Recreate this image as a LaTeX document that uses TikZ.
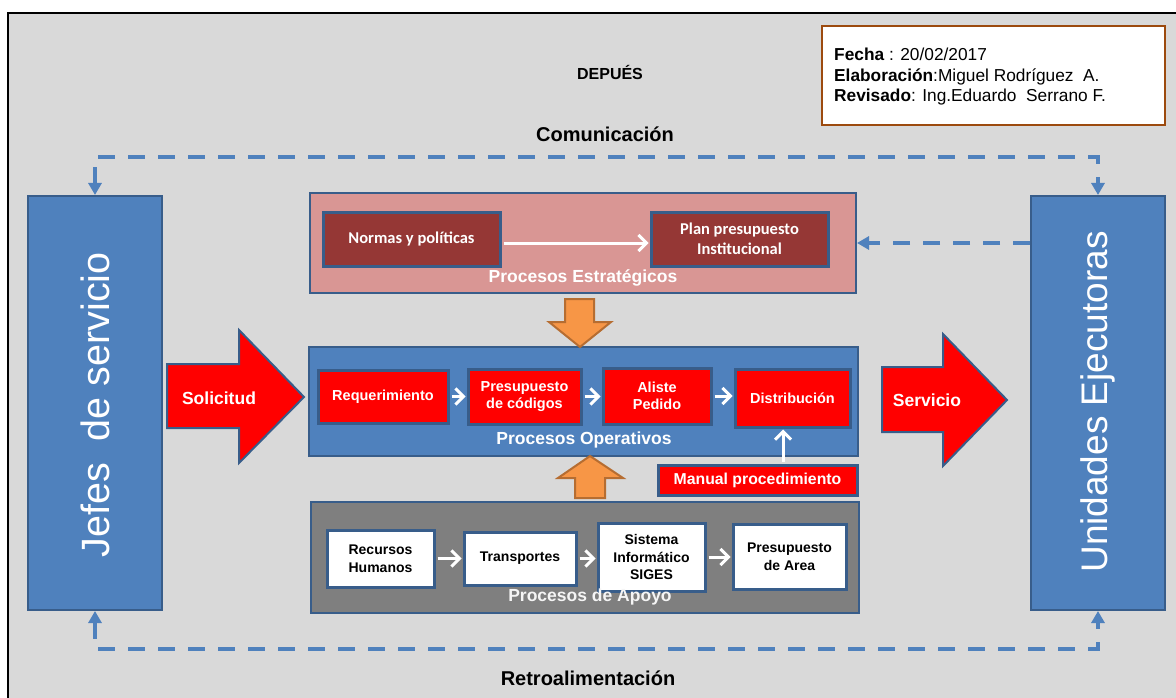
\documentclass[tikz,border=0pt]{standalone}
\usepackage{fontspec}
\setmainfont{Liberation Sans}
\newfontfamily\calibri{Carlito}
\usetikzlibrary{arrows.meta}

\definecolor{bggray}{HTML}{D9D9D9}
\definecolor{boxblue}{HTML}{4F81BD}
\definecolor{edgeblue}{HTML}{385D8A}
\definecolor{rosepink}{HTML}{D99694}
\definecolor{darkred}{HTML}{953735}
\definecolor{orangefill}{HTML}{F79646}
\definecolor{orangeedge}{HTML}{B66D31}
\definecolor{brownedge}{HTML}{9C4A0E}
\definecolor{midgray}{HTML}{7F7F7F}

\tikzset{
  panel/.style={draw=edgeblue, line width=2pt, inner sep=0pt},
  stepbox/.style={draw=edgeblue, line width=3pt, inner sep=0pt, align=center},
  redbox/.style={stepbox, fill=red, text=white, font=\fontsize{14.5}{16.5}\selectfont\bfseries},
  whitebox/.style={stepbox, fill=white, text=black, font=\fontsize{14}{17.5}\selectfont\bfseries},
  wine/.style={stepbox, fill=darkred, text=white, font=\calibri\fontsize{16.5}{20}\selectfont\bfseries},
  sidebox/.style={draw=edgeblue, line width=2pt, fill=boxblue, inner sep=0pt,
    minimum width=134pt, minimum height=414pt},
  sidetext/.style={rotate=90, text=white, font=\fontsize{#1}{40}\selectfont},
  panellabel/.style={text=white, font=\fontsize{17.5}{19}\selectfont\bfseries},
  warrow/.style={draw=white, line width=3pt, -{Straight Barb[length=8pt,width=16pt]},
    shorten <=2pt, shorten >=1pt},
  bluedash/.style={draw=boxblue, line width=4pt, dash pattern=on 17pt off 13pt,
    -{Triangle[length=12pt,width=13pt]}},
  bigarrow/.style={fill=red, draw=edgeblue, line width=2pt, line join=miter},
  fatarrow/.style={fill=orangefill, draw=orangeedge, line width=2pt},
  arrowtext/.style={text=white, font=\fontsize{17.5}{19}\selectfont\bfseries},
  heading/.style={font=\fontsize{20}{22}\selectfont\bfseries},
}

\begin{document}
\begin{tikzpicture}[x=1pt, y=-1pt]
\useasboundingbox (0,0) rectangle (1176,698);
\fill[white] (0,0) rectangle (1176,698);
% page frame
\draw[black, line width=2.5pt, fill=bggray] (8,13) rectangle (1200,720);

% document info
\node[draw=brownedge, line width=2.5pt, fill=white, minimum width=343pt, minimum height=99pt, inner sep=0pt]
  (info) at (993.5,75.5) {};
\node[anchor=west, align=left, inner sep=0pt, font=\fontsize{17.3}{20.5}\selectfont]
  (infotext) at (834,77) {\textbf{Fecha} : 20/02/2017\\
  \textbf{Elaboración}:Miguel Rodríguez\ \ A.\\
  \textbf{Revisado}: Ing.Eduardo\ \ Serrano F.};

\node[font=\fontsize{16}{18}\selectfont\bfseries] (title) at (610,72) {DEPUÉS};
\node[heading] (comm) at (605,134) {Comunicación};
\node[heading] (retro) at (588,678) {Retroalimentación};

% side actors
\node[sidebox] (jefes) at (95,403) {};
\node[sidetext=39.5] (jefestxt) at (95,405) {Jefes\ \ de servicio};
\node[sidebox] (unid) at (1098,403) {};
\node[sidetext=37] (unidtxt) at (1098,402) {Unidades Ejecutoras};

% strategic processes
\node[panel, fill=rosepink, minimum width=546pt, minimum height=100pt] (estr) at (583,243) {};
\node[wine, minimum width=177pt, minimum height=54pt] (normas) at (411.5,239) {Normas y políticas};
\node[wine, minimum width=177pt, minimum height=54pt] (plan) at (739.5,239) {Plan presupuesto\\Institucional};
\node[panellabel] (estrlbl) at (583,278) {Procesos Estratégicos};
\draw[warrow] ([yshift=-4pt]normas.east) -- ([yshift=-4pt]plan.west);

% operative processes
\node[panel, fill=boxblue, minimum width=549pt, minimum height=109pt] (oper) at (583.5,401.5) {};
\node[redbox, minimum width=130pt, minimum height=53pt] (req) at (383,396.5) {Requerimiento};
\node[redbox, minimum width=113pt, minimum height=55pt] (pres) at (524.5,396.5) {Presupuesto\\de códigos};
\node[redbox, minimum width=108pt, minimum height=56pt] (aliste) at (657,396) {Aliste\\Pedido};
\node[redbox, minimum width=115pt, minimum height=58pt] (dist) at (792.5,398) {Distribución};
\node[panellabel] (operlbl) at (584,440) {Procesos Operativos};
\node[redbox, minimum width=199pt, minimum height=30pt, font=\fontsize{15.8}{17}\selectfont\bfseries]
  (manual) at (757.5,480) {Manual procedimiento};
\draw[warrow] (req.east) -- (req.east -| pres.west);
\draw[warrow] (pres.east) -- (pres.east -| aliste.west);
\draw[warrow] (aliste.east) -- (aliste.east -| dist.west);
\coordinate (mx) at (783,0);
\draw[warrow] (manual.north -| mx) -- (dist.south -| mx);

% support processes
\node[panel, fill=midgray, minimum width=548pt, minimum height=111pt] (apoyo) at (585,557.5) {};
\node[whitebox, minimum width=107pt, minimum height=57pt] (rrhh) at (380.5,558.5) {Recursos\\Humanos};
\node[whitebox, minimum width=112pt, minimum height=53pt] (trans) at (520,558.5) {Transportes};
\node[whitebox, minimum width=107pt, minimum height=68pt] (siges) at (651.5,557) {Sistema\\Informático\\SIGES};
\node[whitebox, minimum width=113pt, minimum height=65pt] (parea) at (789.5,556.5) {Presupuesto\\de Area};
\node[panellabel, text=gray!8] (apoyolbl) at (590,597) {Procesos de Apoyo};
\draw[warrow] (rrhh.east) -- (rrhh.east -| trans.west);
\draw[warrow] (trans.east) -- (trans.east -| siges.west);
\draw[warrow] (siges.east) -- (siges.east -| parea.west);

% orange block arrows between the panels
\draw[fatarrow] (565,299) -- (594,299) -- (594,322) -- (611,322) -- (580,347) -- (549,322) -- (565,322) -- cycle;
\draw[fatarrow] (575,498) -- (605,498) -- (605,478) -- (623,478) -- (590,456) -- (558,478) -- (575,478) -- cycle;

% request and service block arrows
\draw[bigarrow] (167,364) -- (239,364) -- (239,330) -- (304,397) -- (239,463) -- (239,428) -- (167,428) -- cycle;
\node[arrowtext] (solic) at (219,398) {Solicitud};
\draw[bigarrow] (882,367) -- (943,367) -- (943,334) -- (1007,400) -- (943,466) -- (943,432) -- (882,432) -- cycle;
\node[arrowtext] (serv) at (927,400) {Servicio};

% communication and feedback loops
\draw[bluedash, {Triangle[length=12pt,width=13pt]}-{Triangle[length=12pt,width=13pt]}]
  (jefes.north) -- ++(0,-38) -| (unid.north);
\draw[bluedash, {Triangle[length=12pt,width=13pt]}-{Triangle[length=12pt,width=13pt]}]
  (jefes.south) -- ++(0,38) -| (unid.south);
\coordinate (ly) at (0,243);
\draw[bluedash] (unid.west |- ly) -- (estr.east |- ly);
\end{tikzpicture}
\end{document}
